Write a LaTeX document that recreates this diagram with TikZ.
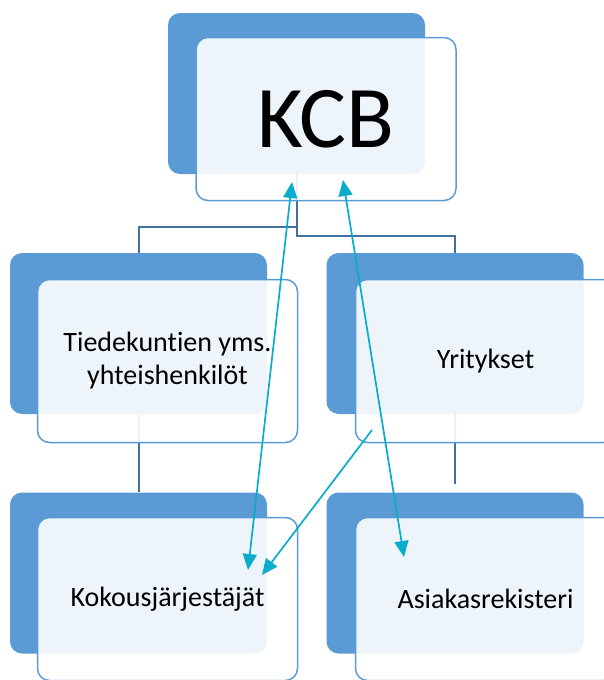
\documentclass[tikz,border=0pt]{standalone}
\usepackage{fontspec}
\setmainfont{Carlito}[Ligatures=NoCommon]
\usetikzlibrary{arrows.meta, positioning}
\definecolor{boxblue}{RGB}{91,155,213}
\definecolor{linkblue}{RGB}{65,113,156}
\definecolor{arrowcyan}{RGB}{10,172,203}

\begin{document}
\begin{tikzpicture}[
  x=1pt, y=-1pt,
  >={Triangle[length=16pt, width=14pt]},
  back/.style={rectangle, rounded corners=12pt, fill=boxblue,
               minimum width=257pt, minimum height=161pt, inner sep=0pt},
  front/.style={rectangle, rounded corners=12pt, draw=boxblue, line width=1.5pt,
                fill=white, fill opacity=0.9, text opacity=1,
                minimum width=260pt, minimum height=163pt, inner sep=0pt,
                align=center, font=\fontsize{28}{33}\selectfont},
  link/.style={draw=linkblue, line width=2pt},
  arr/.style={draw=arrowcyan, fill=arrowcyan, line width=1.7pt}
]
\useasboundingbox (0,0) rectangle (604,680);

% back shapes
\node[back] (kcbback) at (296.5,93.5) {};
\node[back] (tiedback) at (138.5,333.5) {};
\node[back] (yritback) at (455,333.5) {};
\node[back] (kokousback) at (138.5,573) {};
\node[back] (asiakback) at (455,573) {};

% hierarchy lines
\draw[link] (kcbback.south) -- ++(0,53) -| (tiedback.north);
\draw[link] (kcbback.south) -- ++(0,62) -| (yritback.north);
\draw[link] (tiedback.south) -- (kokousback.north);
\draw[link] (yritback.south) -- ++(0,70);

% front shapes
\node[front, font=\fontsize{88}{96}\selectfont] (kcb) at (326,119) {KCB};
\node[front] (tied) at (167.5,361) {Tiedekuntien yms.\\yhteishenkilöt};
\node[front] (yrit) at (485.5,361) {Yritykset};
\node[front] (kokous) at (167.5,599) {Kokousjärjestäjät};
\node[front] (asiak) at (485.5,599) {Asiakasrekisteri};

% arrow ends
\coordinate (kcbleft) at (292,182);
\coordinate (kcbright) at (343,180);
\coordinate (kokousin) at (248,570);
\coordinate (kokousside) at (262,575);
\coordinate (asiakin) at (404,557);
\coordinate (yritout) at (372,430);

% arrows
\draw[arr, <->] (kcbleft) -- (kokousin);
\draw[arr, <->] (kcbright) -- (asiakin);
\draw[arr, ->] (yritout) -- (kokousside);

\end{tikzpicture}
\end{document}
